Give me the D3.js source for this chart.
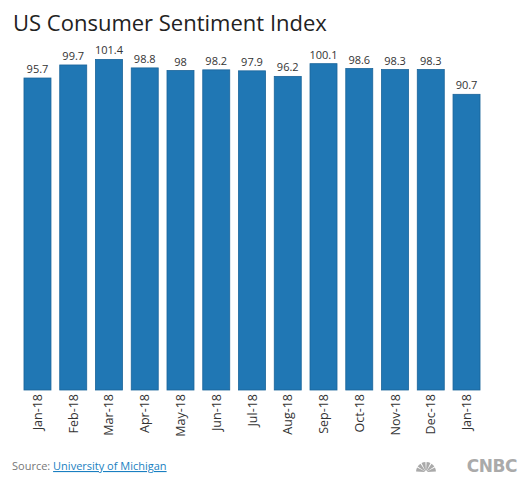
<!DOCTYPE html>
<html><head><meta charset="utf-8">
<script src="https://cdn.jsdelivr.net/npm/d3@7"></script>
<style>body{margin:0;background:#fff}text{font-family:"Open Sans",sans-serif}</style>
</head><body><div id="chart"></div>
<script>
// Data
const months = ["Jan-18","Feb-18","Mar-18","Apr-18","May-18","Jun-18","Jul-18","Aug-18","Sep-18","Oct-18","Nov-18","Dec-18","Jan-18 "];
const values = [95.7, 99.7, 101.4, 98.8, 98, 98.2, 97.9, 96.2, 100.1, 98.6, 98.3, 98.3, 90.7];
const labels = ["95.7","99.7","101.4","98.8","98","98.2","97.9","96.2","100.1","98.6","98.3","98.3","90.7"];

const W = 529, H = 486;
const svg = d3.select("#chart").append("svg").attr("width", W).attr("height", H);

const x = d3.scaleBand().domain(months).range([19.6, 484.4]).paddingInner(0.245).paddingOuter(0.1225);
const y = d3.scaleLinear().domain([0, 110]).range([390, 31.4]);

// Title
svg.append("text").attr("x", 13).attr("y", 31).style("font-size", "22px").style("fill", "#222")
  .text("US Consumer Sentiment Index");

// Bars
svg.selectAll("rect.bar").data(values).enter().append("rect")
  .attr("class", "bar")
  .attr("x", (d, i) => x(months[i]))
  .attr("y", d => y(d))
  .attr("width", x.bandwidth())
  .attr("height", d => y(0) - y(d))
  .attr("fill", "#2077b4")
  .attr("stroke", "#1a649a").attr("stroke-width", 0.8);

// Value labels
svg.selectAll("text.val").data(values).enter().append("text")
  .attr("x", (d, i) => x(months[i]) + x.bandwidth() / 2)
  .attr("y", d => y(d) - 5)
  .attr("text-anchor", "middle")
  .style("font-size", "11px").style("fill", "#333")
  .text((d, i) => labels[i]);

// Category labels (rotated)
svg.selectAll("text.cat").data(months).enter().append("text")
  .attr("transform", d => `translate(${x(d) + x.bandwidth() / 2 + 4.5},394) rotate(-90)`)
  .attr("text-anchor", "end")
  .style("font-size", "12.5px").style("fill", "#333")
  .text(d => d.trim());

// Source
const src = svg.append("text").attr("x", 12).attr("y", 470).style("font-size", "11px").style("fill", "#777");
src.append("tspan").text("Source: ");
src.append("tspan").style("fill", "#1a7fc1").style("text-decoration", "underline").text("University of Michigan");

// Logo
svg.append("text").attr("x", 517).attr("y", 472).attr("text-anchor", "end")
  .style("font-size", "17px").style("font-weight", "900").style("fill", "#aaa")
  .style("font-family", "'DejaVu Sans', sans-serif").style("letter-spacing", "-0.5px").text("CNBC");
svg.append("g").attr("transform", "translate(426,472)").selectAll("path")
  .data(d3.range(6)).enter().append("path")
  .attr("d", d => {
    const a = -Math.PI / 2 + d * Math.PI / 6;
    return d3.arc()({innerRadius: 1.5, outerRadius: 10, startAngle: a + 0.06, endAngle: a + Math.PI / 6 - 0.06});
  })
  .attr("fill", "#aaa");
</script></body></html>
